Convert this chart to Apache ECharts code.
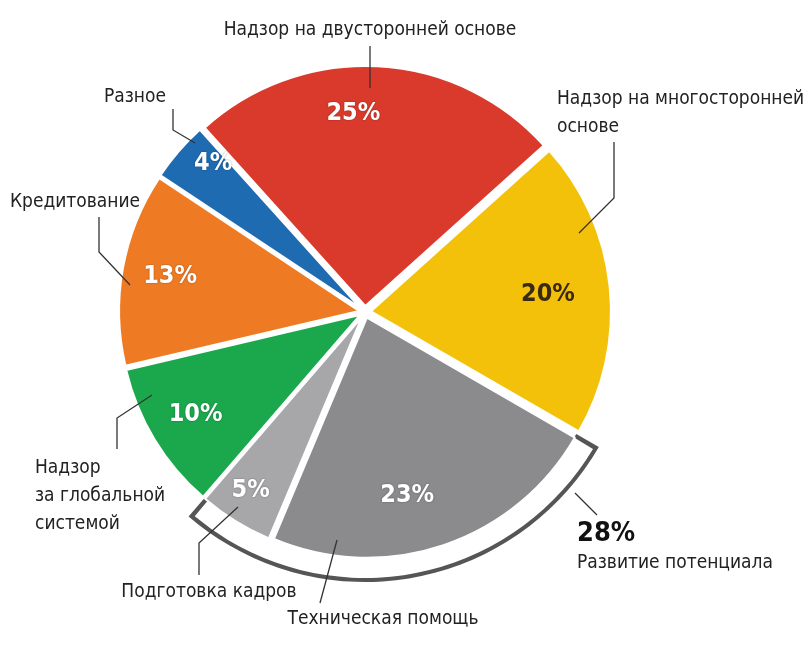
<!DOCTYPE html>
<html>
<head>
<meta charset="utf-8">
<script src="https://cdn.jsdelivr.net/npm/echarts@6/dist/echarts.min.js"></script>
<style>
  html, body { margin: 0; padding: 0; background: #fff; }
  #chart { width: 806px; height: 648px; }
</style>
</head>
<body>
<div id="chart"></div>
<script>
// доли, %
const categories = ['Надзор на двусторонней основе', 'Надзор на многосторонней основе', 'Техническая помощь',
  'Подготовка кадров', 'Надзор за глобальной системой', 'Кредитование', 'Разное'];
const values = [25, 20, 23, 5, 10, 13, 4];
// подписи с переносами строк
const nameLabels = ['Надзор на двусторонней основе', 'Надзор на многосторонней\nоснове', 'Техническая помощь',
  'Подготовка кадров', 'Надзор\nза глобальной\nсистемой', 'Кредитование', 'Разное'];
// скобка: техническая помощь + подготовка кадров
const groupName = 'Развитие потенциала';
const groupValue = 28;

const colors = ['#da3a2b', '#f4c10a', '#8b8b8d', '#a7a7a9', '#1ba84c', '#ee7b23', '#1f6bb2'];
const FONT = "'Liberation Sans Narrow', 'DejaVu Sans Condensed', 'Roboto Condensed', Roboto, sans-serif";

const CX = 365, CY = 312, R = 240;
const START = 132;
const total = values.reduce((a, b) => a + b, 0);
// скобка начинается после первых двух секторов
const groupStart = START - (values[0] + values[1]) / total * 360;

// где стоят подписи и их выноски
const namePlaces = [
  { x: 370, y: 30, align: 'center', va: 'middle', line: [[370, 46], [370, 88]] },
  { x: 557, y: 85, align: 'left', va: 'top', line: [[614, 142], [614, 198], [579, 233]] },
  { x: 383, y: 619, align: 'center', va: 'middle', line: [[320, 603], [337, 540]] },
  { x: 209, y: 592, align: 'center', va: 'middle', line: [[199, 575], [199, 543], [238, 507]] },
  { x: 35, y: 454, align: 'left', va: 'top', line: [[117, 449], [117, 418], [152, 395]] },
  { x: 75, y: 202, align: 'center', va: 'middle', line: [[99, 217], [99, 252], [130, 285]] },
  { x: 135, y: 97, align: 'center', va: 'middle', line: [[173, 109], [173, 130], [195, 143]] }
];
// небольшие сдвиги процентов, как в макете
const pctShift = [[-22, -1], [-14, 3], [-21, -4], [-10, 10], [0, 0], [0, 0], [-2, -19]];

const chart = echarts.init(document.getElementById('chart'), null, { renderer: 'canvas' });

const option = {
  backgroundColor: '#fff',
  animation: false,
  series: [
    // тёмный контур скобки
    {
      type: 'pie',
      z: 1,
      silent: true,
      center: [CX, CY],
      radius: [244, 270],
      startAngle: groupStart,
      avoidLabelOverlap: false,
      data: [
        {
          name: groupName,
          value: groupValue,
          itemStyle: { color: '#555' },
          label: {
            show: true,
            position: 'outside',
            formatter: '{a|' + groupValue + '%}\n{b|' + groupName + '}',
            rich: {
              a: { fontFamily: FONT, fontSize: 27, fontWeight: 'bold', color: '#111', lineHeight: 32 },
              b: { fontFamily: FONT, fontSize: 19, color: '#222', lineHeight: 26 }
            }
          },
          labelLine: { show: true, lineStyle: { color: '#333', width: 1.3 } }
        },
        {
          name: '',
          value: total - groupValue,
          itemStyle: { color: 'transparent' },
          label: { show: false },
          labelLine: { show: false }
        }
      ],
      labelLayout: function (p) {
        if (p.dataIndex !== 0) return {};
        return { x: 577, y: 518, align: 'left', verticalAlign: 'top', labelLinePoints: [[575, 493], [597, 515]] };
      }
    },
    // белая полоса внутри скобки
    {
      type: 'pie',
      z: 2,
      silent: true,
      center: [CX, CY],
      radius: [236, 266],
      startAngle: groupStart,
      padAngle: 2,
      label: { show: false },
      labelLine: { show: false },
      data: [
        { value: groupValue, itemStyle: { color: '#fff' } },
        { value: total - groupValue, itemStyle: { color: 'transparent' } }
      ]
    },
    // основной круг
    {
      type: 'pie',
      z: 3,
      silent: true,
      center: [CX, CY],
      radius: [0, R],
      startAngle: START,
      selectedMode: 'multiple',
      selectedOffset: 6,
      itemStyle: { borderColor: '#fff', borderWidth: 2 },
      label: { show: false },
      labelLine: { show: false },
      data: categories.map((n, i) => ({
        name: n,
        value: values[i],
        selected: true,
        itemStyle: { color: colors[i] }
      }))
    },
    // названия с выносками
    {
      type: 'pie',
      z: 4,
      silent: true,
      center: [CX, CY],
      radius: [0, R - 20],
      startAngle: START,
      avoidLabelOverlap: false,
      itemStyle: { color: 'transparent' },
      label: {
        show: true,
        position: 'outside',
        fontFamily: FONT,
        fontSize: 19,
        lineHeight: 28,
        color: '#222',
        formatter: p => nameLabels[p.dataIndex]
      },
      labelLine: { show: true, lineStyle: { color: '#333', width: 1.3 } },
      labelLayout: function (p) {
        const s = namePlaces[p.dataIndex];
        return { x: s.x, y: s.y, align: s.align, verticalAlign: s.va, labelLinePoints: s.line };
      },
      data: categories.map((n, i) => ({ name: n, value: values[i] }))
    },
    // проценты внутри секторов
    {
      type: 'pie',
      z: 5,
      silent: true,
      center: [CX, CY],
      radius: [150, R],
      startAngle: START,
      itemStyle: { color: 'transparent' },
      labelLine: { show: false },
      label: {
        show: true,
        position: 'inside',
        formatter: '{c}%',
        fontFamily: FONT,
        fontSize: 25,
        fontWeight: 'bold',
        color: '#fff',
        textShadowColor: 'rgba(0,0,0,0.35)',
        textShadowBlur: 2
      },
      labelLayout: function (p) {
        const d = pctShift[p.dataIndex];
        return { dx: d[0], dy: d[1] };
      },
      data: categories.map((n, i) => ({
        name: n,
        value: values[i],
        label: i === 1 ? { color: '#3a2a12', textShadowBlur: 0 } : {}
      }))
    }
  ]
};

chart.setOption(option);
</script>
</body>
</html>
